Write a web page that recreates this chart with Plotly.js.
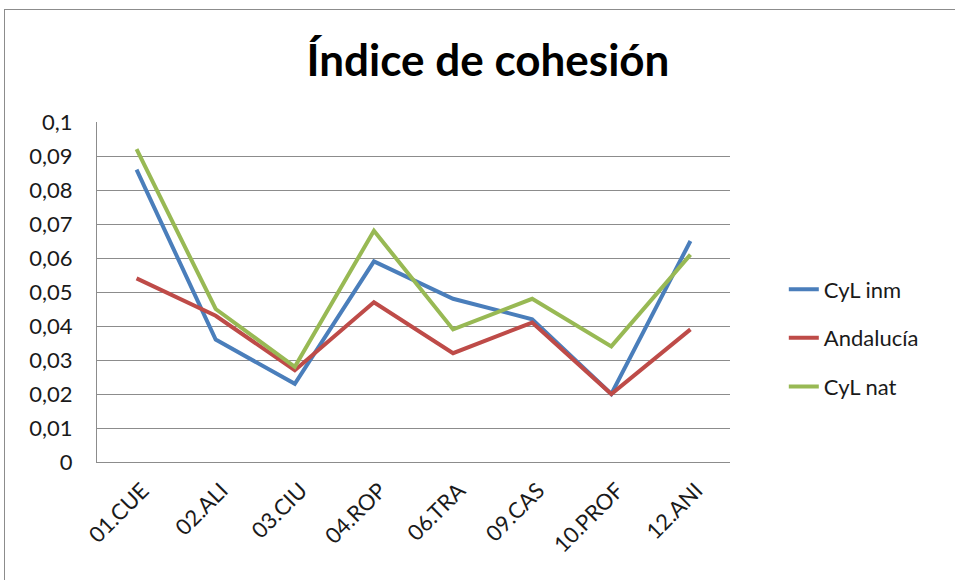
<!DOCTYPE html>
<html>
<head>
<meta charset="utf-8">
<script src="https://cdn.plot.ly/plotly-3.0.1.min.js"></script>
<style>
html,body{margin:0;padding:0;background:#fff;}
#chart{width:955px;height:580px;position:absolute;left:0;top:0;}
#frame{position:absolute;left:4px;top:9px;width:1000px;height:620px;border:1.5px solid #8c8c8c;pointer-events:none;}
</style>
</head>
<body>
<div id="chart"></div>
<div id="frame"></div>
<script>
const categories = ["01.CUE","02.ALI","03.CIU","04.ROP","06.TRA","09.CAS","10.PROF","12.ANI"];
const cylInm     = [0.086, 0.036, 0.023, 0.059, 0.048, 0.042, 0.020, 0.065];
const andalucia  = [0.054, 0.043, 0.027, 0.047, 0.032, 0.041, 0.020, 0.039];
const cylNat     = [0.092, 0.045, 0.028, 0.068, 0.039, 0.048, 0.034, 0.061];
const yTickVals  = [0, 0.01, 0.02, 0.03, 0.04, 0.05, 0.06, 0.07, 0.08, 0.09, 0.1];
const yTickText  = ["0","0,01","0,02","0,03","0,04","0,05","0,06","0,07","0,08","0,09","0,1"];

const FONT = "Lato, 'Open Sans', sans-serif";
const mk = (name, y, color) => ({
  type: "scatter", mode: "lines", name: name, legendgroup: name,
  x: categories, y: y,
  line: {color: color, width: 4}
});

const data = [
  mk("CyL inm", cylInm, "#4A7EBB"),
  mk("Andalucía", andalucia, "#BE4B48"),
  mk("CyL nat", cylNat, "#98B954")
];

const layout = {
  width: 955, height: 580,
  margin: {l: 97, r: 225, t: 122, b: 118},
  paper_bgcolor: "#fff", plot_bgcolor: "#fff",
  showlegend: true,
  title: {text: "<b>Índice de cohesión</b>", font: {family: FONT, size: 44, color: "#000"},
          x: 0.511, xanchor: "center", y: 0.895, yanchor: "middle"},
  font: {family: FONT, color: "#000"},
  xaxis: {
    type: "category", range: [-0.5, 7.5],
    tickangle: -45, tickfont: {size: 22, color: "#1a1a1a"},
    showgrid: false, showline: true, linecolor: "#8c8c8c", linewidth: 1,
    ticks: "", ticklabelstandoff: 6, ticklabelshift: 6, fixedrange: true
  },
  yaxis: {
    range: [0, 0.1], tickvals: yTickVals, ticktext: yTickText,
    tickfont: {size: 22, color: "#1a1a1a"},
    showgrid: true, gridcolor: "#8c8c8c", gridwidth: 1,
    showline: true, linecolor: "#8c8c8c", linewidth: 1,
    zeroline: false, ticks: "", ticklabelstandoff: 19, fixedrange: true
  },
  legend: {
    x: 1.085, xanchor: "left", y: 0.365, yanchor: "middle",
    font: {size: 22, color: "#1a1a1a"}, tracegroupgap: 17, traceorder: "grouped",
    bgcolor: "rgba(0,0,0,0)"
  }
};

Plotly.newPlot("chart", data, layout, {displayModeBar: false, staticPlot: true});
</script>
</body>
</html>
